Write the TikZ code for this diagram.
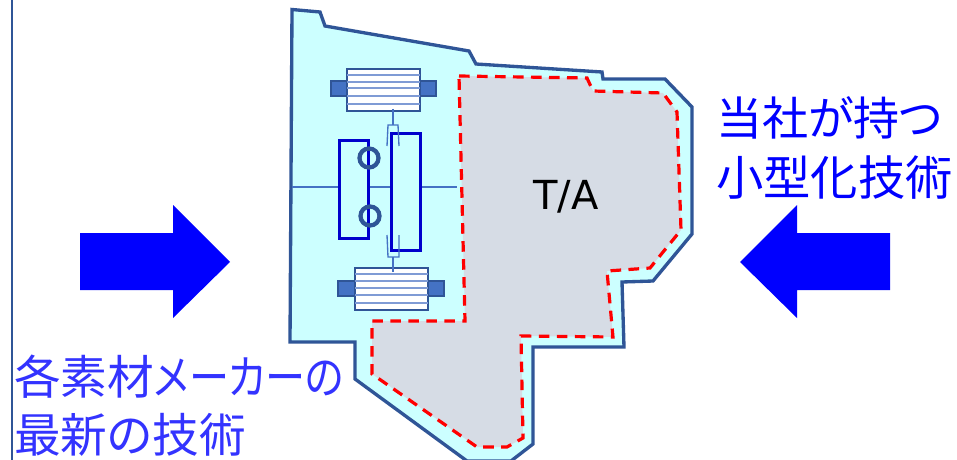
\documentclass[tikz,border=0pt]{standalone}
\usepackage{graphicx}
\usepackage{fontspec}
\newfontfamily\cjk[RawFeature=+palt]{Noto Sans CJK JP}
\newfontfamily\lat{DejaVu Sans}
\definecolor{outl}{HTML}{2F5597}
\definecolor{cyanf}{HTML}{CCFFFF}
\definecolor{grayf}{HTML}{D6DCE5}
\definecolor{coilb}{HTML}{4472C4}
\definecolor{coill}{HTML}{7F9BD5}
\definecolor{txtl}{HTML}{3333FF}
\tikzset{
  x=0.75pt,y=-0.75pt,
  housing/.style={draw=outl,fill=cyanf,line width=2.5pt,line join=miter},
  ta/.style={draw=red,fill=grayf,line width=2.4pt,dash pattern=on 8pt off 5.5pt},
  coil/.style={draw=outl,fill=white,line width=1.1pt},
  coilline/.style={draw=coill,line width=1.3pt},
  block/.style={draw=outl,fill=coilb,line width=2.2pt},
  shaft/.style={draw=coilb,line width=1pt},
  gear/.style={draw=blue!80!black,fill=cyanf,line width=2.25pt},
  ring/.style={draw=outl,line width=3.2pt},
  bigarrow/.style={fill=blue,draw=none},
  jp/.style={font=\cjk,anchor=west,inner sep=0pt},
}
\begin{document}
\begin{tikzpicture}
\useasboundingbox (0,0) rectangle (957,460);
\clip (0,0) rectangle (957,460);
\fill[white] (0,0) rectangle (957,460);
\draw[outl,line width=2.2pt] (12,0) -- (12,460);
% housing
\draw[housing] (292,9.5) -- (320,12) -- (325,26) -- (469,51) -- (476,64) -- (602,72) -- (603,79) -- (665,79) -- (692,107) -- (692,234) -- (653,281) -- (622,282) -- (624,347) -- (533,347) -- (533,444) -- (511,461) -- (467,461) -- (355,379) -- (355,342) -- (290,342) -- cycle;
% T/A area
\draw[ta] (459,76) -- (587,78) -- (593,91) -- (663,93) -- (677,112) -- (681,230) -- (650,268) -- (607,271) -- (613,337) -- (521,336) -- (523,438) -- (507,447) -- (477,447) -- (372,374) -- (372,321) -- (465,321) -- cycle;
\node[font=\lat,text=black,inner sep=0pt] (talabel) at (566,197) {\fontsize{30pt}{30pt}\selectfont T/A};
% shaft
\draw[shaft] (292,187) -- (457,187);
% top coil
\draw[block] (331,81) rectangle (347,96);
\draw[block] (420,81) rectangle (436,96);
\draw[coil] (347,69) rectangle (420,111);
\foreach \y in {75,81.7,88.3,95.7,103.7} \draw[coilline] (347,\y) -- (420,\y);
\draw[shaft] (393,109) -- (393,125);
% bottom coil
\draw[block] (338,281) rectangle (355,296);
\draw[block] (428,281) rectangle (444,296);
\draw[coil] (355,268) rectangle (428,310);
\foreach \y in {274,281,288,295,303} \draw[coilline] (355,\y) -- (428,\y);
\draw[shaft] (393,257) -- (393,272);
% gears
\draw[gear] (339,140) rectangle (368,238);
\draw[gear] (391,133) rectangle (420,250);
% forks
\draw[shaft] (387,146) -- (388,125) -- (398,125) -- (399,146);
\draw[shaft] (387,235) -- (388,257) -- (399,257) -- (399,235);
% rings
\draw[ring] (369,158) circle (9.5);
\draw[ring] (370,216) circle (9.5);
% arrows
\fill[bigarrow] (80,233) -- (173,233) -- (173,205) -- (230,262) -- (173,318) -- (173,290) -- (80,290) -- cycle;
\fill[bigarrow] (890,233) -- (797,233) -- (797,205) -- (740,262) -- (797,318) -- (797,290) -- (890,290) -- cycle;
% texts
\node[jp,text=blue] (r1) at (716,118) {\fontsize{34.5pt}{34.5pt}\selectfont 当社が持つ};
\node[jp,text=blue] (r2) at (716,178) {\fontsize{35.5pt}{35.5pt}\selectfont 小型化技術};
\node[jp,text=txtl] (l1) at (14,377) {\fontsize{35pt}{35pt}\selectfont 各素材\scalebox{0.86}[1]{メーカーの}};
\node[jp,text=txtl] (l2) at (14,435) {\fontsize{35pt}{35pt}\selectfont 最新の技術};
\end{tikzpicture}
\end{document}
